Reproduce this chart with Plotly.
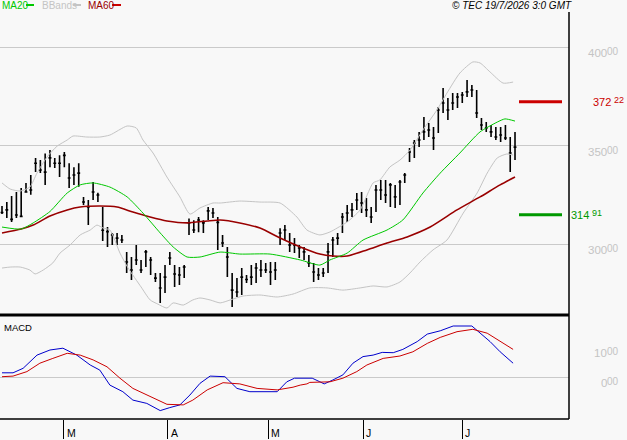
import plotly.graph_objects as go

# ---------------- data ----------------
highs = [319.3, 321.3, 324.4, 326.4, 328.4, 331.0, 335.0, 343.7, 342.6, 346.0,
         347.7, 343.7, 345.0, 346.7, 341.0, 339.0, 341.0, 323.9, 322.3, 331.5,
         326.0, 318.8, 308.6, 305.6, 305.6, 304.6, 296.0, 293.4, 299.5, 291.9,
         296.9, 293.4, 285.3, 285.3, 289.3, 296.0, 289.3, 288.3, 289.3, 313.0,
         312.0, 313.7, 312.0, 318.8, 318.3, 313.7, 304.6, 298.5, 285.3, 282.7,
         287.8, 284.3, 289.3, 290.4, 291.9, 290.4, 290.9, 290.9, 308.0, 309.6,
         305.6, 303.0, 299.5, 298.5, 294.4, 290.4, 287.8, 287.8, 300.5, 303.6,
         305.6, 315.7, 319.8, 320.8, 325.9, 326.4, 323.4, 318.8, 330.0, 332.5,
         332.5, 331.0, 330.0, 332.5, 336.0, 348.7, 352.8, 356.9, 364.5, 361.4,
         359.4, 369.5, 379.2, 374.1, 376.6, 376.6, 377.2, 383.2, 380.7, 378.2,
         364.0, 361.9, 360.4, 359.4, 359.4, 360.4, 354.3, 356.9]
lows = [315.2, 313.2, 311.2, 313.2, 313.7, 326.0, 325.0, 336.5, 336.0, 330.0,
        339.0, 338.6, 334.0, 339.0, 328.4, 330.0, 329.0, 319.8, 309.6, 322.3,
        321.3, 301.5, 298.5, 299.5, 299.5, 300.5, 285.3, 281.7, 289.3, 285.3,
        288.3, 284.3, 280.7, 270.0, 275.1, 289.3, 278.2, 279.2, 282.7, 304.6,
        305.6, 306.0, 305.6, 312.2, 313.2, 297.0, 298.5, 283.2, 268.0, 273.1,
        274.1, 280.2, 279.2, 280.2, 283.2, 285.3, 279.2, 281.7, 299.5, 302.0,
        296.0, 295.4, 292.9, 291.9, 288.3, 280.7, 281.7, 283.2, 285.3, 293.4,
        299.5, 305.6, 311.2, 313.7, 317.3, 315.7, 313.7, 310.7, 316.2, 322.3,
        320.8, 318.8, 318.3, 319.8, 331.0, 341.6, 343.7, 349.2, 352.8, 354.3,
        347.7, 356.3, 366.5, 362.9, 368.0, 369.0, 371.6, 374.6, 374.6, 364.0,
        357.9, 356.9, 354.3, 352.8, 351.8, 352.8, 336.5, 342.6]
closes = [316.0, 317.3, 312.5, 314.7, 314.0, 326.4, 327.4, 341.0, 337.6, 336.5,
          343.7, 341.0, 341.0, 345.0, 333.5, 335.0, 336.0, 321.3, 318.8, 326.4,
          324.9, 307.0, 306.3, 304.6, 303.0, 302.0, 290.9, 286.8, 291.9, 286.8,
          296.0, 291.9, 282.7, 277.7, 283.2, 292.9, 284.8, 284.3, 288.3, 310.7,
          307.1, 312.2, 310.7, 316.8, 315.7, 311.0, 300.5, 293.4, 276.6, 275.6,
          283.2, 282.0, 283.2, 287.8, 286.8, 286.8, 285.8, 286.8, 305.6, 307.1,
          299.5, 299.5, 298.0, 296.0, 290.4, 285.8, 284.3, 285.3, 296.0, 302.0,
          303.0, 313.7, 315.7, 317.3, 322.3, 320.8, 317.3, 313.7, 327.4, 327.4,
          324.9, 330.0, 323.9, 331.5, 335.0, 346.7, 351.3, 352.8, 356.9, 357.9,
          353.8, 368.0, 371.6, 368.0, 371.6, 374.6, 375.6, 377.2, 378.2, 366.5,
          360.4, 358.9, 356.9, 354.3, 355.3, 353.8, 346.2, 349.2]
bar_idx = list(range(len(closes)))

ma20_x = [0, 4, 6.5, 10, 13.6, 16.3, 19, 22.5, 26.1, 29.4, 33, 35.7, 38.6, 41.3,
          45.5, 49.6, 55.9, 62.2, 66.3, 68.4, 72, 75.3, 80.3, 83.6, 87.8, 91.4,
          95.5, 99.7, 103.3, 104.9, 107]
ma20_y = [308.6, 307.6, 310.7, 316.5, 325.9, 330.0, 331.0, 328.9, 323.9, 315.7,
          305.6, 298.5, 293.4, 293.4, 295.9, 294.9, 294.9, 291.9, 289.3, 291.9,
          295.4, 302.0, 307.1, 312.2, 325.9, 336.0, 346.2, 356.9, 361.9, 363.5,
          362.4]

ma60_x = [0, 4, 6.5, 10, 13.6, 16.3, 20.4, 24, 27.3, 30.9, 34.4, 38.6, 42.8, 45.5,
          49.6, 53.8, 58, 62.2, 66.3, 69, 72, 76.1, 80.3, 84.5, 89.3, 94.9, 99.7,
          103.9, 107]
ma60_y = [305.6, 307.6, 309.6, 314.2, 317.3, 318.8, 319.3, 318.8, 316.2, 313.7,
          311.7, 310.7, 311.7, 312.2, 310.7, 308.1, 303.0, 298.5, 294.9, 293.9,
          293.9, 297.0, 300.5, 303.6, 308.6, 317.3, 323.9, 330.0, 334.0]

bbup_x = [0, 1.7, 3.8, 5.8, 7.3, 9.4, 11.5, 13.6, 14.8, 17.7, 20.4, 22.5, 26.1, 28,
          29.4, 31.5, 34.4, 37.1, 39.2, 41.3, 44, 45.5, 49.6, 53.8, 58, 61.5, 63.6,
          66.3, 68.4, 69.9, 72, 74.7, 77.4, 78.8, 80.9, 83, 85.1, 87.8, 90.7, 92.8,
          95.5, 98.2, 99.7, 101.8, 104.5, 106.6]
bbup_y = [331.0, 327.9, 326.9, 328.9, 336.0, 344.2, 349.7, 352.8, 354.8, 354.3,
          354.3, 355.3, 359.9, 358.9, 352.8, 346.2, 334.0, 323.9, 315.2, 318.3,
          320.8, 320.8, 321.8, 321.3, 320.8, 313.7, 307.1, 304.6, 306.1, 308.1,
          311.2, 317.3, 331.0, 332.5, 339.1, 342.6, 347.7, 357.9, 368.0, 376.6,
          386.8, 392.4, 391.9, 387.3, 381.7, 382.2]

bblo_x = [0, 1.7, 3.8, 5.8, 6.9, 8.6, 10.6, 12.1, 14.2, 16.3, 18.4, 19.8, 21.1, 22.5,
          24.6, 26.3, 29, 30.9, 32.5, 34.4, 35.7, 37.8, 39.8, 41.3, 43.4, 45.5,
          47.6, 50.3, 53.8, 57.4, 60.7, 64.2, 67.8, 71.1, 74.7, 77.4, 80.3, 83,
          85.1, 87.2, 89.9, 92.8, 96.2, 99.1, 101.2, 103.3, 105.3, 106.6]
bblo_y = [287.8, 288.3, 288.3, 286.8, 284.8, 286.8, 290.4, 295.4, 299.5, 304.6,
          307.1, 309.6, 308.1, 307.1, 295.4, 287.8, 278.2, 271.6, 269.5, 267.5,
          270.1, 269.0, 271.6, 272.6, 271.6, 270.1, 271.6, 273.6, 274.1, 273.1,
          274.6, 277.7, 277.7, 276.6, 277.7, 278.7, 278.2, 280.7, 285.3, 290.9,
          297.0, 302.0, 315.7, 325.9, 336.0, 343.7, 345.7, 345.2]

macd_x = [0, 2.3, 4.4, 7.3, 10, 12.7, 15.6, 18.4, 20.4, 22.5, 25.2, 27.3, 30.2, 33,
          35, 37.1, 39.2, 41.3, 43.4, 46.5, 49, 51.7, 57.4, 59.4, 61, 62.2, 64.7,
          66.3, 67.2, 69, 71.1, 73.2, 75.3, 77.4, 79.3, 81.6, 83.6, 86.6, 88.7,
          91.4, 94.1, 98, 99.7, 101.8, 103.9, 106.6]
macd_y = [1.4, 1.4, 2.9, 7.3, 9.0, 9.6, 7.3, 4.0, 2.3, -2.7, -4.9, -7.7, -8.8, -11.2,
          -10.2, -9.3, -6.0, -2.1, 0.3, 0.1, -3.8, -4.9, -4.9, -1.6, -0.4, -0.4,
          -0.4, -1.6, -2.3, -1.0, 0.7, 4.6, 6.8, 7.3, 8.2, 8.1, 9.2, 11.8, 14.3,
          15.4, 17.0, 17.0, 14.6, 11.8, 8.4, 4.6]

signal_x = [0, 2.3, 5.2, 7.9, 10.6, 13.6, 16.3, 19, 21.9, 24.6, 27.3, 30.9, 34.4,
            37.8, 39.8, 42.8, 46.1, 49.6, 53.2, 57.4, 60.7, 62.2, 63.6, 64.2, 66.3,
            68.4, 71.1, 74, 76.1, 79.5, 83, 85.7, 88.7, 91.4, 94.9, 98.2, 101.2,
            103.9, 106.6]
signal_y = [0.1, 0.3, 1.8, 4.6, 6.2, 7.9, 7.3, 5.7, 3.4, -0.4, -3.8, -6.6, -9.1,
            -9.3, -7.7, -4.3, -1.9, -2.3, -3.8, -4.3, -3.4, -2.7, -2.3, -1.8, -1.6,
            -1.6, -0.4, 1.8, 4.0, 6.2, 7.0, 8.4, 11.2, 13.2, 15.1, 15.9, 14.6,
            11.8, 9.2]

month_labels = ["M", "A", "M", "J", "J"]
month_pos = [12.9, 34.6, 55.5, 75.3, 96.0]
price_ticks = [300, 350, 400]
macd_ticks = [0, 10]
resistance = 372.22
support = 314.91
legend_names = ["MA20", "BBands", "MA60"]
stamp = "\u00a9 TEC 19/7/2026 3:0 GMT"

# ---------------- geometry helpers (pixels -> paper) ----------------
W, H = 627, 440
ML, MR, MT, MB = 0, 58, 12, 21
PW, PH = W - ML - MR, H - MT - MB
def px(x):
    return (x - ML) / PW
def py(y):
    return (H - MB - y) / PH

FONT = "Liberation Sans, Arial, sans-serif"
GREEN_MA = "#00c800"
RED_MA = "#990000"
BAND = "#c4c4c4"
GRID = "#cacaca"

fig = go.Figure()

fig.add_trace(go.Scatter(x=bbup_x, y=bbup_y, mode="lines", line=dict(color=BAND, width=1, shape="spline", smoothing=0.6), xaxis="x", yaxis="y", hoverinfo="skip"))
fig.add_trace(go.Scatter(x=bblo_x, y=bblo_y, mode="lines", line=dict(color=BAND, width=1, shape="spline", smoothing=0.6), xaxis="x", yaxis="y", hoverinfo="skip"))
fig.add_trace(go.Scatter(x=ma60_x, y=ma60_y, mode="lines", line=dict(color=RED_MA, width=1.6, shape="spline", smoothing=0.6), xaxis="x", yaxis="y", hoverinfo="skip"))
fig.add_trace(go.Scatter(x=ma20_x, y=ma20_y, mode="lines", line=dict(color=GREEN_MA, width=1, shape="spline", smoothing=0.6), xaxis="x", yaxis="y", hoverinfo="skip"))

fig.add_trace(go.Ohlc(x=bar_idx, open=closes, high=highs, low=lows, close=closes,
                      increasing=dict(line=dict(color="black", width=1.6)),
                      decreasing=dict(line=dict(color="black", width=1.6)),
                      tickwidth=0.3, xaxis="x", yaxis="y", hoverinfo="skip"))

fig.add_trace(go.Scatter(x=macd_x, y=macd_y, mode="lines", line=dict(color="#0000cc", width=1), xaxis="x2", yaxis="y2", hoverinfo="skip"))
fig.add_trace(go.Scatter(x=signal_x, y=signal_y, mode="lines", line=dict(color="#cc0000", width=1), xaxis="x2", yaxis="y2", hoverinfo="skip"))

xr = [-0.42, 118.26]
fig.update_layout(
    width=W, height=H, margin=dict(l=ML, r=MR, t=MT, b=MB, pad=0),
    paper_bgcolor="#f8f8f8", plot_bgcolor="#f8f8f8", showlegend=False,
    xaxis=dict(domain=[0, 1], range=xr, visible=False, anchor="y", rangeslider=dict(visible=False)),
    yaxis=dict(domain=[py(315), 1], range=[263.96, 417.77], tickvals=price_ticks, showticklabels=False,
               showgrid=True, gridcolor=GRID, gridwidth=1, zeroline=False, showline=False, ticks=""),
    xaxis2=dict(domain=[0, 1], range=xr, anchor="y2", tickvals=month_pos, ticktext=[""] * len(month_pos),
                ticks="outside", ticklen=19, tickwidth=1, tickcolor="black", showgrid=False,
                zeroline=False, showline=False),
    yaxis2=dict(domain=[0, py(317)], range=[-14, 20], tickvals=[0], showticklabels=False,
                showgrid=True, gridcolor=GRID, gridwidth=1, zeroline=False, showline=False, ticks=""),
)

shapes = []
# panel frame lines
shapes.append(dict(type="line", xref="paper", yref="paper", x0=0, x1=1, y0=py(315), y1=py(315), line=dict(color="black", width=3)))
shapes.append(dict(type="line", xref="paper", yref="paper", x0=0, x1=1, y0=0, y1=0, line=dict(color="black", width=1.5)))
shapes.append(dict(type="line", xref="paper", yref="paper", x0=1, x1=1, y0=0, y1=1, line=dict(color="black", width=1.5)))
# resistance / support markers
shapes.append(dict(type="line", xref="paper", yref="y", x0=px(519), x1=px(562), y0=resistance, y1=resistance, line=dict(color="#cc0000", width=3)))
shapes.append(dict(type="line", xref="paper", yref="y", x0=px(519), x1=px(562), y0=support, y1=support, line=dict(color="#009900", width=3)))

annotations = []
def two_part(value, yref, x_main_right, x_sup_left, color, size_main, size_sup, yshift_main, yshift_sup):
    a, b = f"{value:.2f}".split(".")
    annotations.append(dict(text=a, x=px(x_main_right), xref="paper", xanchor="right", y=value, yref=yref,
                            yanchor="middle", yshift=yshift_main, showarrow=False, borderpad=0,
                            font=dict(family=FONT, size=size_main, color=color)))
    annotations.append(dict(text=b, x=px(x_sup_left), xref="paper", xanchor="left", y=value, yref=yref,
                            yanchor="middle", yshift=yshift_sup, showarrow=False, borderpad=0,
                            font=dict(family=FONT, size=size_sup, color=color)))

for v in price_ticks:
    two_part(v, "y", 608, 605.5, "#c4c4c4", 11.5, 10, -6, -4.5)
for v in macd_ticks:
    two_part(v, "y2", 608, 605.5, "#c4c4c4", 11.5, 10, -6, -4.5)
two_part(resistance, "y", 612, 613, "#cc0000", 11, 9, 0, 1.5)
two_part(support, "y", 590, 591, "#009900", 11, 9, 0, 1.5)

# legend
leg_cols = [GREEN_MA, "#c4c4c4", RED_MA]
leg_x = [0, 40, 86]
line_x = [(26, 34), (73, 81), (112, 121)]
line_cols = [GREEN_MA, "#c4c4c4", "#cc0000"]
for name, c, lx, (l0, l1), lc in zip(legend_names, leg_cols, leg_x, line_x, line_cols):
    annotations.append(dict(text=name, x=px(lx), xref="paper", xanchor="left", y=py(6), yref="paper",
                            yanchor="middle", showarrow=False, font=dict(family=FONT, size=10, color=c)))
    shapes.append(dict(type="line", xref="paper", yref="paper", x0=px(l0), x1=px(l1), y0=py(5), y1=py(5),
                       line=dict(color=lc, width=2)))

annotations.append(dict(text="<i>" + stamp + "</i>", x=px(574), xref="paper", xanchor="right", y=py(6), yref="paper",
                        yanchor="middle", showarrow=False, font=dict(family=FONT, size=10, color="black")))
annotations.append(dict(text="MACD", x=px(2), xref="paper", xanchor="left", y=py(327.5), yref="paper",
                        yanchor="middle", showarrow=False, font=dict(family=FONT, size=9.5, color="black")))
for lab, pos in zip(month_labels, month_pos):
    annotations.append(dict(text=lab, x=pos, xref="x2", xanchor="left", xshift=1, y=py(433), yref="paper",
                            yanchor="middle", showarrow=False, font=dict(family=FONT, size=10.5, color="black")))

fig.update_layout(shapes=shapes, annotations=annotations)
fig.write_html("out.html")
